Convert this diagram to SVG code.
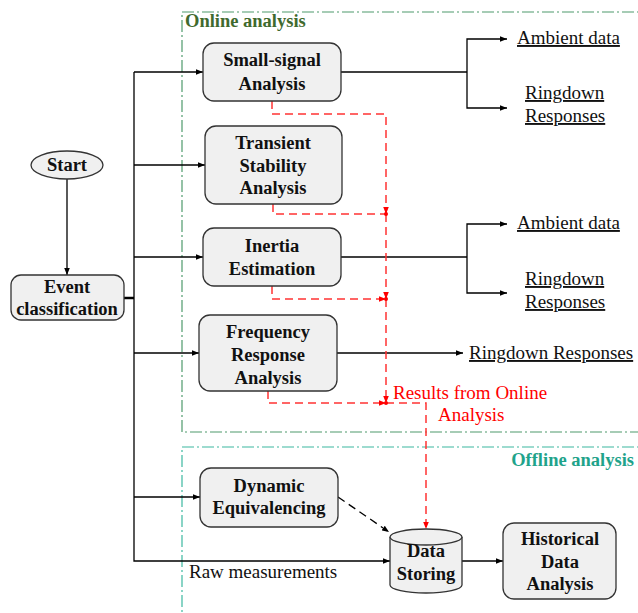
<svg xmlns="http://www.w3.org/2000/svg" width="638" height="613" viewBox="0 0 638 613" font-family="'Liberation Serif', 'Times New Roman', 'DejaVu Serif', serif">
<defs>
<marker id="ah" viewBox="0 0 10 10" refX="10" refY="5" markerWidth="7" markerHeight="7" markerUnits="userSpaceOnUse" orient="auto-start-reverse"><path d="M0,1 L10,5 L0,9 z" fill="#000"/></marker>
<marker id="ahr" viewBox="0 0 10 10" refX="10" refY="5" markerWidth="7" markerHeight="7" markerUnits="userSpaceOnUse" orient="auto"><path d="M0,1 L10,5 L0,9 z" fill="#f00"/></marker>
</defs>
<style>
.box{fill:#f0f0f0;stroke:#333;stroke-width:1.3}
text{font-family:'Liberation Serif','Times New Roman','DejaVu Serif',serif}
.b{font-weight:bold;font-size:18.5px;fill:#111;text-anchor:middle}
.r{font-size:19px;fill:#111}
.u{text-decoration:underline}
.ln{fill:none;stroke:#000;stroke-width:1.3}
.rd{fill:none;stroke:#f33;stroke-width:1.5;stroke-dasharray:8,5}
</style>
<rect width="638" height="613" fill="#fff"/>
<g id="regions">
<rect x="182" y="12" width="470" height="420" fill="none" stroke="#4f9a6c" stroke-width="1.2" stroke-dasharray="12,3,2,3"/>
<text x="185" y="27" font-weight="bold" font-size="18.5" fill="#3f6a2e">Online analysis</text>
<rect x="182" y="447" width="470" height="180" fill="none" stroke="#3cb8a0" stroke-width="1.2" stroke-dasharray="12,3,2,3"/>
<text x="634" y="466" text-anchor="end" font-weight="bold" font-size="18.5" fill="#1fa38b">Offline analysis</text>
</g>
<g id="connectors">
<line class="ln" x1="67" y1="179" x2="67" y2="275" marker-end="url(#ah)"/>
<line x1="124" y1="298" x2="134" y2="298" stroke="#000" stroke-width="2.5"/>
<polyline class="ln" points="134,72 134,561 390,561" marker-end="url(#ah)"/>
<line class="ln" x1="134" y1="72" x2="203" y2="72" marker-end="url(#ah)"/>
<line class="ln" x1="134" y1="165" x2="205" y2="165" marker-end="url(#ah)"/>
<line class="ln" x1="134" y1="257" x2="203" y2="257" marker-end="url(#ah)"/>
<line class="ln" x1="134" y1="353" x2="199" y2="353" marker-end="url(#ah)"/>
<line class="ln" x1="134" y1="497" x2="200" y2="497" marker-end="url(#ah)"/>
<line class="ln" x1="341" y1="72" x2="467" y2="72"/>
<polyline class="ln" points="507,39 467,39 467,108 507,108" marker-start="url(#ah)" marker-end="url(#ah)"/>
<line class="ln" x1="341" y1="257" x2="467" y2="257"/>
<polyline class="ln" points="507,224 467,224 467,293 507,293" marker-start="url(#ah)" marker-end="url(#ah)"/>
<line class="ln" x1="337" y1="353" x2="463" y2="353" marker-end="url(#ah)"/>
<line class="ln" x1="338" y1="497" x2="389" y2="532" stroke-dasharray="8,5" marker-end="url(#ah)"/>
<line class="ln" x1="462" y1="561" x2="503" y2="561" marker-end="url(#ah)"/>
<polyline class="rd" points="272,101 272,114 386,114 386,214" marker-end="url(#ahr)"/>
<polyline class="rd" points="386,214 386,299" marker-end="url(#ahr)"/>
<polyline class="rd" points="386,299 386,403" marker-end="url(#ahr)"/>
<polyline class="rd" points="273,204 273,214 386,214"/>
<polyline class="rd" points="272,286 272,299 386,299" stroke-dasharray="8,4,2,4" marker-end="url(#ahr)"/>
<polyline class="rd" points="268,391 268,403 386,403" marker-end="url(#ahr)"/>
<polyline class="rd" points="386,403 426,403 426,529" marker-end="url(#ahr)"/>
<circle cx="386" cy="214" r="2" fill="#f00"/>
<circle cx="386" cy="299" r="2" fill="#f00"/>
<circle cx="386" cy="403" r="2" fill="#f00"/>
<text x="393" y="399" font-size="19" fill="#f00">Results from Online</text>
<text x="438" y="421" font-size="19" fill="#f00">Analysis</text>
<text class="r" x="189" y="578">Raw measurements</text>
<text class="r u" x="517" y="44">Ambient data</text>
<text class="r u" x="525" y="99">Ringdown</text>
<text class="r u" x="525" y="122">Responses</text>
<text class="r u" x="517" y="229">Ambient data</text>
<text class="r u" x="525" y="285">Ringdown</text>
<text class="r u" x="525" y="308">Responses</text>
<text class="r u" x="469" y="359">Ringdown Responses</text>
</g>
<g id="start">
<ellipse cx="67" cy="165" rx="36" ry="14" class="box"/>
<text class="b" x="67" y="171">Start</text>
</g>
<g id="event">
<rect x="11" y="275" width="113" height="45" rx="10" class="box"/>
<text class="b" x="67" y="293">Event</text>
<text class="b" x="67" y="315">classification</text>
</g>
<g id="smallsignal">
<rect x="203" y="43" width="138" height="58" rx="11" class="box"/>
<text class="b" x="272" y="66">Small-signal</text>
<text class="b" x="272" y="90">Analysis</text>
</g>
<g id="transient">
<rect x="205" y="126" width="137" height="78" rx="11" class="box"/>
<text class="b" x="273" y="149">Transient</text>
<text class="b" x="273" y="172">Stability</text>
<text class="b" x="273" y="194">Analysis</text>
</g>
<g id="inertia">
<rect x="203" y="228" width="138" height="58" rx="11" class="box"/>
<text class="b" x="272" y="252">Inertia</text>
<text class="b" x="272" y="275">Estimation</text>
</g>
<g id="frequency">
<rect x="199" y="315" width="138" height="76" rx="11" class="box"/>
<text class="b" x="268" y="338">Frequency</text>
<text class="b" x="268" y="361">Response</text>
<text class="b" x="268" y="384">Analysis</text>
</g>
<g id="dynamic">
<rect x="200" y="468" width="138" height="59" rx="11" class="box"/>
<text class="b" x="269" y="492">Dynamic</text>
<text class="b" x="269" y="514">Equivalencing</text>
</g>
<g id="datastoring">
<path d="M390,537 L390,585 A36,8 0 0 0 462,585 L462,537" class="box"/>
<ellipse cx="426" cy="537" rx="36" ry="8" class="box"/>
<text class="b" x="426" y="557">Data</text>
<text class="b" x="426" y="580">Storing</text>
</g>
<g id="historical">
<rect x="503" y="523" width="113" height="76" rx="11" class="box"/>
<text class="b" x="560" y="545">Historical</text>
<text class="b" x="560" y="568">Data</text>
<text class="b" x="560" y="590">Analysis</text>
</g>
</svg>
